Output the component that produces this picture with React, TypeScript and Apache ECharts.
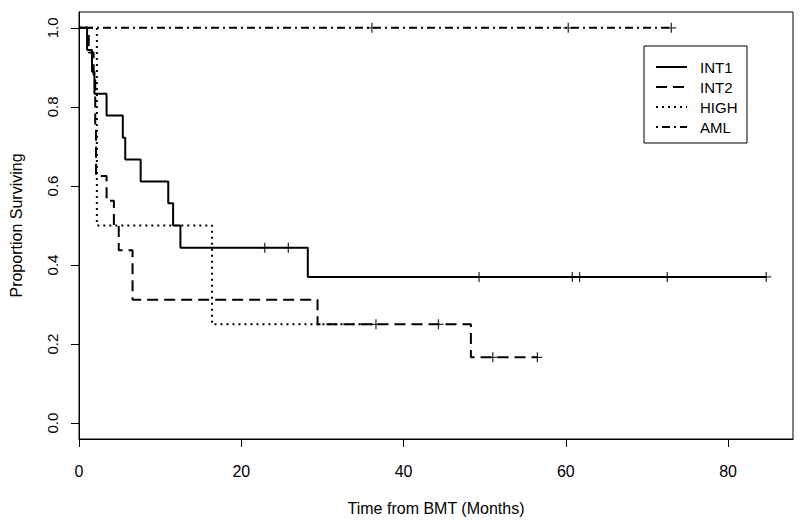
import React, { useEffect, useRef } from "react";
import * as echarts from "echarts";

// Kaplan-Meier step data (time in months, proportion surviving)
const int1Times = [0, 1.0, 1.6, 1.9, 3.4, 5.4, 5.7, 7.6, 11.0, 11.6, 12.5, 28.2, 84.7];
const int1Surv = [1, 0.944, 0.889, 0.833, 0.778, 0.722, 0.667, 0.611, 0.556, 0.5, 0.444, 0.37, 0.37];
const int1Censor = [22.9, 25.8, 49.3, 60.8, 61.7, 72.5, 84.7];

const int2Times = [0, 1.2, 1.8, 2.0, 2.1, 3.4, 4.3, 4.9, 6.6, 29.4, 48.3, 56.5];
const int2Surv = [1, 0.9375, 0.875, 0.75, 0.625, 0.5625, 0.5, 0.4375, 0.3125, 0.25, 0.1667, 0.1667];
const int2Censor = [44.3, 51.0, 56.5];

const highTimes = [0, 2.2, 16.4, 36.6];
const highSurv = [1, 0.5, 0.25, 0.25];
const highCensor = [36.6];

const amlTimes = [0, 73.0];
const amlSurv = [1, 1];
const amlCensor = [36.1, 60.3, 73.0];

const seriesNames = ["INT1", "INT2", "HIGH", "AML"];
const xTicks = [0, 20, 40, 60, 80];
const yTicks = [0, 0.2, 0.4, 0.6, 0.8, 1.0];

const FONT = '"Liberation Sans", Arial, Helvetica, sans-serif';
const dashes: (number[] | "solid")[] = ["solid", [11, 6], [2, 4], [2, 4, 8, 4]];

const CENSOR = "path://M4.35,0H5.65V10H4.35ZM0,4.35H10V5.65H0Z";

function stepValue(times: number[], surv: number[], t: number) {
  let v = surv[0];
  for (let i = 0; i < times.length; i++) if (times[i] <= t) v = surv[i];
  return v;
}

export default function App() {
  const ref = useRef<HTMLDivElement>(null);
  useEffect(() => {
    if (!ref.current) return;
    const chart = echarts.init(ref.current, undefined, { renderer: "svg" });
    const groups = [
      [int1Times, int1Surv, int1Censor],
      [int2Times, int2Surv, int2Censor],
      [highTimes, highSurv, highCensor],
      [amlTimes, amlSurv, amlCensor],
    ];
    const series: any[] = [];
    groups.forEach(([times, surv, cens], k) => {
      series.push({
        name: seriesNames[k],
        type: "line",
        step: "end",
        symbol: "none",
        data: times.map((t, i) => [t, surv[i]]),
        lineStyle: { color: "#000", width: 2, type: dashes[k], cap: "butt" },
        z: 3,
      });
      series.push({
        name: seriesNames[k] + " censored",
        type: "scatter",
        symbol: CENSOR,
        symbolSize: 10,
        itemStyle: { color: "#000" },
        data: cens.map((t) => [t, stepValue(times, surv, t)]),
        z: 4,
      });
    });

    const legendY = [67, 87, 107, 127];
    const legendChildren: any[] = [
      {
        type: "rect",
        shape: { x: 644, y: 46, width: 103, height: 97 },
        style: { fill: "#fff", stroke: "#000", lineWidth: 1 },
        z: 10,
      },
    ];
    seriesNames.forEach((n, k) => {
      legendChildren.push({
        type: "line",
        shape: { x1: 656, y1: legendY[k], x2: 687, y2: legendY[k] },
        style: {
          stroke: "#000",
          lineWidth: 2,
          lineDash: dashes[k] === "solid" ? null : dashes[k],
        },
        z: 11,
      });
      legendChildren.push({
        type: "text",
        x: 700,
        y: legendY[k],
        style: {
          text: n,
          fill: "#000",
          fontSize: 15,
          fontFamily: FONT,
          verticalAlign: "middle",
          align: "left",
        },
        z: 11,
      });
    });

    chart.setOption({
      animation: false,
      backgroundColor: "#fff",
      grid: {
        left: 77,
        right: 7,
        top: 12,
        bottom: 85,
        show: true,
        borderColor: "#000",
        borderWidth: 1,
        backgroundColor: "transparent",
      },
      xAxis: {
        type: "value",
        min: 0,
        max: 88,
        name: "Time from BMT (Months)",
        nameLocation: "middle",
        nameGap: 61,
        nameTextStyle: { color: "#000", fontSize: 16, fontFamily: FONT },
        axisLine: { show: true, onZero: false, lineStyle: { color: "#000", width: 1 } },
        axisTick: { show: true, length: 8, customValues: xTicks, lineStyle: { color: "#000" } },
        axisLabel: {
          customValues: xTicks,
          margin: 24,
          color: "#000",
          fontSize: 16,
          fontFamily: FONT,
        },
        splitLine: { show: false },
      },
      yAxis: {
        type: "value",
        min: -0.04,
        max: 1.04,
        name: "Proportion Surviving",
        nameLocation: "middle",
        nameGap: 55,
        nameRotate: 90,
        nameTextStyle: { color: "#000", fontSize: 16, fontFamily: FONT },
        axisLine: { show: true, onZero: false, lineStyle: { color: "#000", width: 1 } },
        axisTick: { show: true, length: 8, customValues: yTicks, lineStyle: { color: "#000" } },
        axisLabel: {
          customValues: yTicks,
          rotate: 90,
          margin: 19,
          color: "#000",
          fontSize: 15,
          fontFamily: FONT,
          formatter: (v: number) => v.toFixed(1),
        },
        splitLine: { show: false },
      },
      graphic: [{ type: "group", children: legendChildren }],
      series,
    });
    return () => chart.dispose();
  }, []);
  return (
    <div
      ref={ref}
      style={{ position: "absolute", left: 0, top: 0, width: 800, height: 524 }}
    />
  );
}
